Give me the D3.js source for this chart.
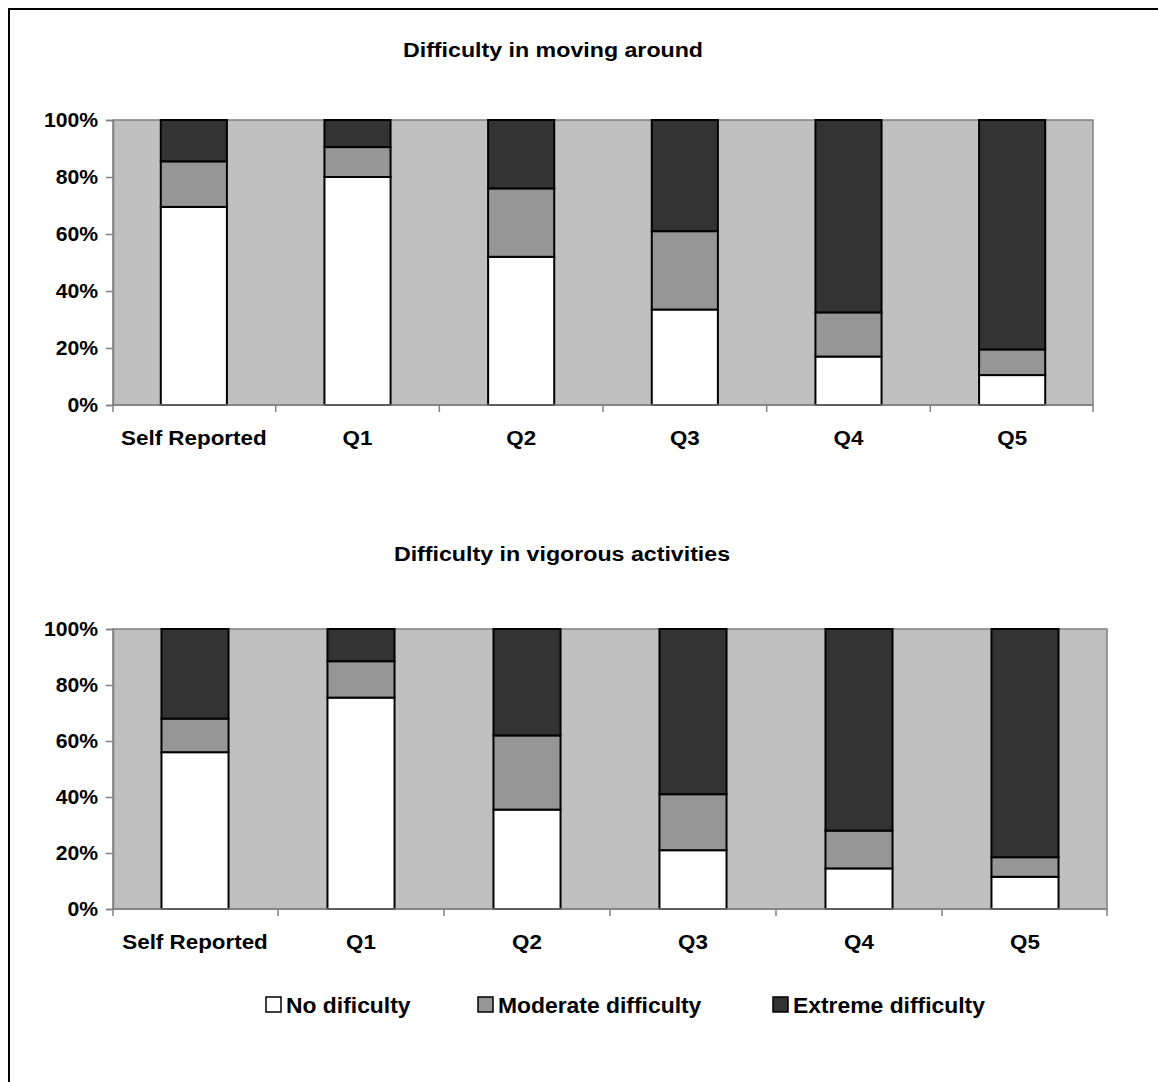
<!DOCTYPE html>
<html><head><meta charset="utf-8">
<script src="https://cdn.jsdelivr.net/npm/d3@7"></script>
<style>
body{margin:0;background:#fff;}
svg{display:block;}
text{font-family:"Liberation Sans",Arial,sans-serif;font-weight:bold;fill:#000;}
</style></head>
<body>
<script>
const categories = ["Self Reported","Q1","Q2","Q3","Q4","Q5"];
const seriesNames = ["No dificulty","Moderate difficulty","Extreme difficulty"];
const seriesColors = ["#ffffff","#969696","#333333"];
// Chart 1: Difficulty in moving around (percent)
const movingNone     = [69.5, 80, 52, 33.5, 17, 10.5];
const movingModerate = [16, 10.5, 24, 27.5, 15.5, 9];
const movingExtreme  = [14.5, 9.5, 24, 39, 67.5, 80.5];
// Chart 2: Difficulty in vigorous activities (percent)
const vigorNone     = [56, 75.5, 35.5, 21, 14.5, 11.5];
const vigorModerate = [12, 13, 26.5, 20, 13.5, 7];
const vigorExtreme  = [32, 11.5, 38, 59, 72, 81.5];
const yTicks = [0, 20, 40, 60, 80, 100];
const titles = ["Difficulty in moving around","Difficulty in vigorous activities"];

const W = 1158, H = 1082;
const svg = d3.select("body").append("svg").attr("width", W).attr("height", H);
svg.append("rect").attr("x",9).attr("y",9).attr("width",1300).attr("height",1300)
  .attr("fill","none").attr("stroke","#000").attr("stroke-width",2);

function buildRows(a,b,c){ return categories.map((cat,i)=>({cat, s0:a[i], s1:b[i], s2:c[i]})); }

const charts = [
  {rows: buildRows(movingNone,movingModerate,movingExtreme), x0:113, x1:1093, y0:405, y1:120, title:titles[0], tx:553, ty:57, lbl:445},
  {rows: buildRows(vigorNone,vigorModerate,vigorExtreme), x0:113, x1:1107, y0:909, y1:629, title:titles[1], tx:562, ty:561, lbl:949}
];

const stack = d3.stack().keys(["s0","s1","s2"]);

charts.forEach(c=>{
  const g = svg.append("g");
  const x = d3.scaleBand().domain(categories).range([c.x0,c.x1]).paddingInner(0.596).paddingOuter(0.292);
  const y = d3.scaleLinear().domain([0,100]).range([c.y0,c.y1]);
  // plot area
  g.append("rect").attr("x",c.x0).attr("y",c.y1).attr("width",c.x1-c.x0).attr("height",c.y0-c.y1)
    .attr("fill","#c0c0c0").attr("stroke","#808080").attr("stroke-width",1.5);
  // bars
  const layers = stack(c.rows);
  layers.forEach((layer,k)=>{
    g.append("g").selectAll("rect").data(layer).join("rect")
      .attr("x",d=>x(d.data.cat)).attr("width",x.bandwidth())
      .attr("y",d=>y(d[1])).attr("height",d=>y(d[0])-y(d[1]))
      .attr("fill",seriesColors[k]).attr("stroke","#000").attr("stroke-width",2);
  });
  // y axis
  const ya = g.append("g").attr("transform",`translate(${c.x0},0)`)
    .call(d3.axisLeft(y).tickValues(yTicks).tickFormat(d=>d+"%").tickSize(7).tickPadding(7));
  ya.select(".domain").attr("stroke","#808080").attr("stroke-width",1.5);
  ya.selectAll(".tick line").attr("stroke","#808080").attr("stroke-width",1.5);
  ya.selectAll(".tick text").attr("font-size",20).attr("font-family","Liberation Sans, Arial, sans-serif")
    .attr("font-weight","bold").attr("fill","#000").attr("transform","scale(1.06,1)");
  // x axis line and between-category ticks
  const xa = g.append("g").attr("transform",`translate(0,${c.y0})`);
  xa.append("line").attr("x1",c.x0).attr("x2",c.x1).attr("stroke","#808080").attr("stroke-width",1.5);
  const step = x.step();
  const bounds = d3.range(categories.length+1).map(i=> i===categories.length ? c.x1 : (i===0 ? c.x0 : x(categories[i]) - step*x.paddingInner()/2));
  xa.selectAll("line.tk").data(bounds).join("line").attr("class","tk")
    .attr("x1",d=>d).attr("x2",d=>d).attr("y1",0).attr("y2",7).attr("stroke","#808080").attr("stroke-width",1.5);
  // category labels
  g.append("g").selectAll("text").data(categories).join("text")
    .attr("transform",d=>`translate(${x(d)+x.bandwidth()/2},${c.lbl}) scale(1.12,1)`)
    .attr("text-anchor","middle").attr("font-size",20).text(d=>d);
  // title
  g.append("text").attr("transform",`translate(${c.tx},${c.ty}) scale(1.16,1)`)
    .attr("text-anchor","middle").attr("font-size",20).text(c.title);
});

// legend
const legX = [266, 478, 773];
const lg = svg.append("g");
seriesNames.forEach((n,i)=>{
  lg.append("rect").attr("x",legX[i]).attr("y",997).attr("width",15).attr("height",15)
    .attr("fill",seriesColors[i]).attr("stroke","#000").attr("stroke-width",1.5);
  lg.append("text").attr("transform",`translate(${legX[i]+20},1013) scale(1.04,1)`)
    .attr("font-size",22).text(n);
});
</script>
</body></html>
